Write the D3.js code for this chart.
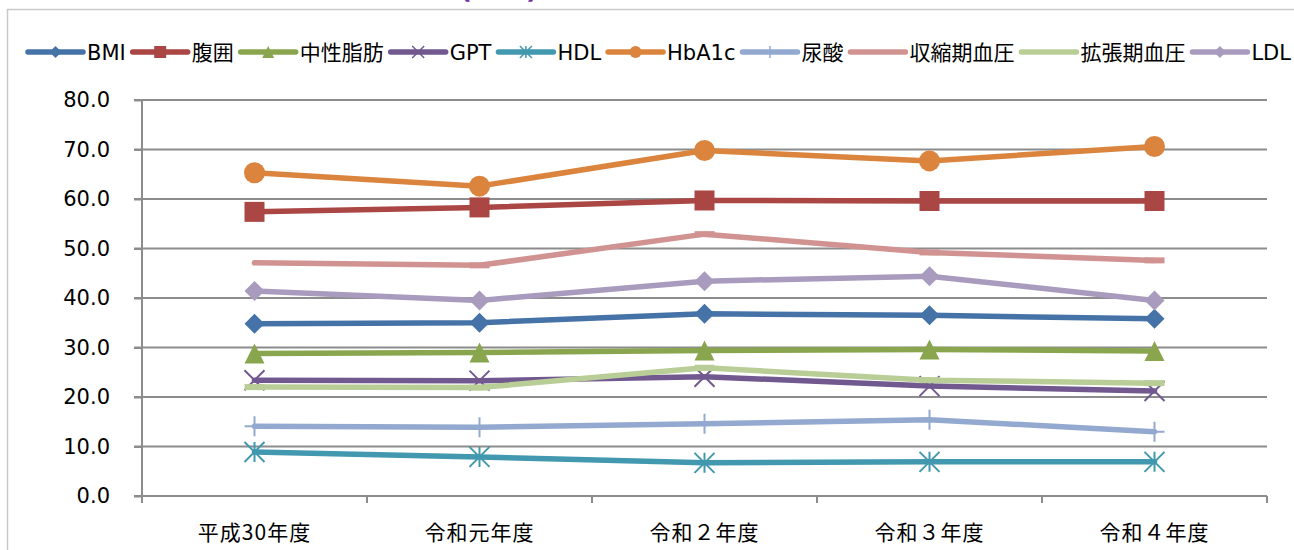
<!DOCTYPE html>
<html>
<head>
<meta charset="utf-8">
<script src="https://cdn.jsdelivr.net/npm/d3@7"></script>
<style>
  html, body { margin: 0; padding: 0; background: #fff; }
  svg { display: block; }
  .latin { font-family: "DejaVu Sans", "Noto Sans CJK JP", sans-serif; }
  .cjk { font-family: "Noto Sans CJK JP", sans-serif; }
</style>
</head>
<body>
<svg id="chart" width="1294" height="550"></svg>
<script>
// Fiscal years on the x axis
const categories = ["平成30年度", "令和元年度", "令和２年度", "令和３年度", "令和４年度"];

// Series, in drawing order
const seriesNames = ["BMI", "腹囲", "中性脂肪", "GPT", "HDL", "HbA1c", "尿酸", "収縮期血圧", "拡張期血圧", "LDL"];

const bmi      = [34.8, 35.0, 36.8, 36.5, 35.8];
const waist    = [57.4, 58.3, 59.7, 59.6, 59.6];
const tg       = [28.8, 29.0, 29.4, 29.6, 29.3];
const gpt      = [23.4, 23.3, 24.1, 22.2, 21.2];
const hdl      = [8.9, 7.9, 6.7, 6.9, 6.9];
const hba1c    = [65.3, 62.6, 69.8, 67.7, 70.6];
const uricAcid = [14.1, 13.9, 14.6, 15.4, 13.0];
const systolic = [47.1, 46.6, 52.9, 49.2, 47.6];
const diastolic= [22.0, 21.9, 25.9, 23.4, 22.8];
const ldl      = [41.4, 39.5, 43.4, 44.4, 39.5];

const seriesValues = [bmi, waist, tg, gpt, hdl, hba1c, uricAcid, systolic, diastolic, ldl];

// Value axis ticks
const yTicks = [0, 10, 20, 30, 40, 50, 60, 70, 80];

// Styling per series
const seriesColors = ["#4572A7", "#AA4643", "#89A54E", "#71588F", "#4198AF",
                      "#DB843D", "#93A9CF", "#D19392", "#B9CD96", "#A99BBD"];
const seriesMarkers = ["diamond", "square", "triangle", "times", "asterisk",
                       "circle", "plus", "dash", "dash", "diamond"];

const svg = d3.select("#chart");

const plot = { left: 142, right: 1267, top: 100, bottom: 496 };

const x = d3.scaleBand().domain(categories).range([plot.left, plot.right]).padding(0);
const y = d3.scaleLinear().domain([0, 80]).range([plot.bottom, plot.top]);
const cx = d => x(d) + x.bandwidth() / 2;

// Outer chart frame
svg.append("rect")
  .attr("x", 7.5).attr("y", 9.5)
  .attr("width", 1400).attr("height", 700)
  .attr("fill", "none").attr("stroke", "#c9c9c9").attr("stroke-width", 1.5);

// Chart title (runs off the top edge)
svg.append("text")
  .attr("class", "latin")
  .attr("x", 506).attr("y", -2)
  .attr("text-anchor", "middle")
  .attr("font-size", 26).attr("font-weight", "bold")
  .attr("letter-spacing", 14)
  .attr("fill", "#7030A0")
  .text("(％)");

const gridColor = "#8c8c8c";

// Horizontal gridlines, starting at the tick marks
svg.append("g").selectAll("line").data(yTicks).join("line")
  .attr("x1", plot.left - 8).attr("x2", plot.right)
  .attr("y1", d => y(d)).attr("y2", d => y(d))
  .attr("stroke", gridColor).attr("stroke-width", 2);

// Y axis
const yAxis = svg.append("g")
  .attr("transform", `translate(${plot.left},0)`)
  .call(d3.axisLeft(y).tickValues(yTicks).tickFormat(d3.format(".1f"))
        .tickSize(8).tickSizeOuter(0).tickPadding(24));
yAxis.select(".domain").remove();
yAxis.selectAll(".tick line").attr("stroke", gridColor).attr("stroke-width", 2);
yAxis.selectAll(".tick text")
  .attr("class", "latin").attr("font-size", 21).attr("fill", "#000");
svg.append("line")
  .attr("x1", plot.left).attr("x2", plot.left)
  .attr("y1", plot.top).attr("y2", plot.bottom + 7)
  .attr("stroke", gridColor).attr("stroke-width", 2);

// X axis: ticks at the category boundaries
const xAxis = svg.append("g")
  .attr("transform", `translate(0,${plot.bottom})`)
  .call(d3.axisBottom(x).tickSize(0).tickPadding(29));
xAxis.select(".domain").remove();
xAxis.selectAll(".tick text")
  .attr("class", "cjk").attr("font-size", 21).attr("letter-spacing", 1).attr("fill", "#000");
const bounds = categories.map(c => x(c)).concat([x(categories[categories.length - 1]) + x.bandwidth()]);
svg.append("g").selectAll("line").data(bounds).join("line")
  .attr("x1", d => d).attr("x2", d => d)
  .attr("y1", plot.bottom).attr("y2", plot.bottom + 7)
  .attr("stroke", gridColor).attr("stroke-width", 2);

// Marker paths centred on (0,0), size s = full width
function markerPath(type, s) {
  const h = s / 2;
  switch (type) {
    case "diamond": return `M0,${-h}L${h},0L0,${h}L${-h},0Z`;
    case "square": return `M${-h},${-h}H${h}V${h}H${-h}Z`;
    case "triangle": return `M0,${-h}L${h},${h}L${-h},${h}Z`;
    case "circle": return `M${h},0A${h},${h} 0 1,1 ${-h},0A${h},${h} 0 1,1 ${h},0Z`;
    case "times": return `M${-h},${-h}L${h},${h}M${h},${-h}L${-h},${h}`;
    case "asterisk": return `M${-h},${-h}L${h},${h}M${h},${-h}L${-h},${h}M0,${-h}V${h}`;
    case "plus": return `M${-h},0H${h}M0,${-h}V${h}`;
    default: return "";
  }
}
const strokedMarker = t => t === "times" || t === "asterisk" || t === "plus";

function drawMarker(g, type, color, px, py, s, lw) {
  if (type === "dash") {
    g.append("rect")
      .attr("x", px - s / 2).attr("y", py - lw / 2)
      .attr("width", s).attr("height", lw)
      .attr("fill", color);
    return;
  }
  const p = g.append("path")
    .attr("transform", `translate(${px},${py})`)
    .attr("d", markerPath(type, s));
  if (strokedMarker(type)) {
    p.attr("fill", "none").attr("stroke", color).attr("stroke-width", s > 14 ? 2 : 1.5);
  } else {
    p.attr("fill", color);
  }
}

// Series lines and markers
const line = d3.line().x(d => cx(d.cat)).y(d => y(d.v));
const lineWidth = 5.5;

seriesNames.forEach((name, i) => {
  const color = seriesColors[i];
  const pts = seriesValues[i].map((v, j) => ({ cat: categories[j], v }));
  const g = svg.append("g");
  g.append("path")
    .attr("d", line(pts))
    .attr("fill", "none").attr("stroke", color)
    .attr("stroke-width", lineWidth)
    .attr("stroke-linejoin", "round").attr("stroke-linecap", "round");
  pts.forEach((p, j) => {
    const type = seriesMarkers[i];
    if (type === "dash" && name === "収縮期血圧" && j === 0) return;
    const s = type === "circle" ? 21 : 20;
    drawMarker(g, type, color, cx(p.cat), y(p.v), s, lineWidth + 0.5);
  });
});

// Legend across the top
const legend = svg.append("g").attr("transform", "translate(0,52)");
const legendStart = 28, legendEnd = 1291, swatch = 55, textGap = 4;
const items = seriesNames.map((name, i) => {
  const t = legend.append("text")
    .attr("class", "latin")
    .attr("font-size", 21).attr("dy", "0.36em").attr("fill", "#000")
    .text(name);
  return { name, i, t, w: t.node().getComputedTextLength() };
});
const used = d3.sum(items, d => swatch + textGap + d.w);
const gap = (legendEnd - legendStart - used) / (items.length - 1);
let lx = legendStart;
items.forEach(d => {
  const color = seriesColors[d.i];
  legend.append("line")
    .attr("x1", lx).attr("x2", lx + swatch).attr("y1", 0).attr("y2", 0)
    .attr("stroke", color).attr("stroke-width", lineWidth).attr("stroke-linecap", "round");
  const type = seriesMarkers[d.i];
  if (type !== "dash") drawMarker(legend, type, color, lx + swatch / 2, 0, 12, lineWidth);
  d.t.attr("x", lx + swatch + textGap);
  lx += swatch + textGap + d.w + gap;
});
</script>
</body>
</html>
